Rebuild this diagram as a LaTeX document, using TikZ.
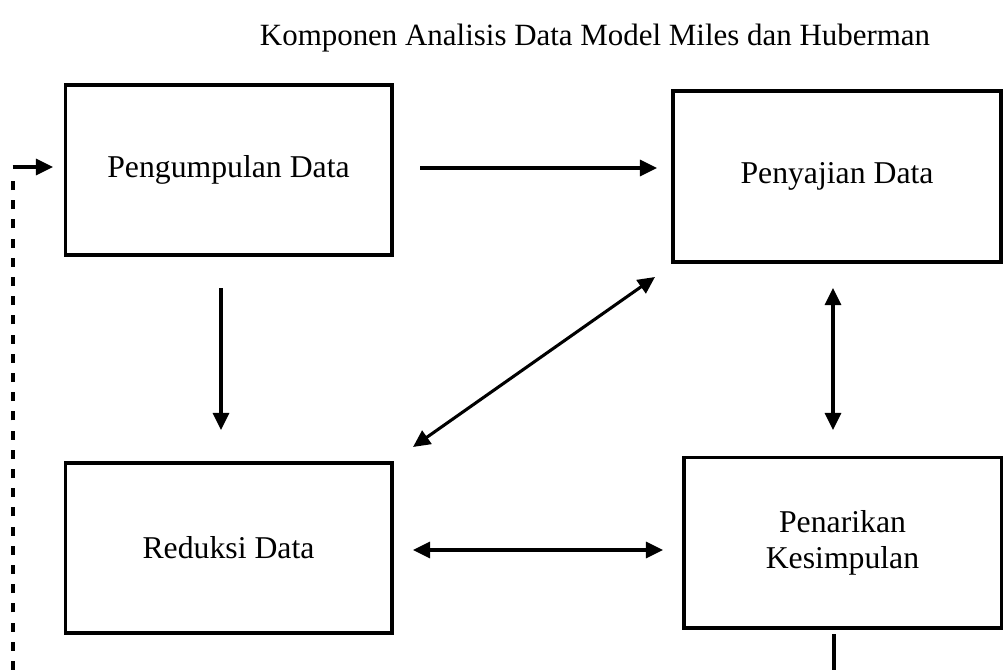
\documentclass[tikz,border=0pt]{standalone}
\usepackage{fontspec}
\setmainfont{Liberation Serif}
\usetikzlibrary{arrows.meta}
\tikzset{
  box/.style={draw, line width=1.15pt, rectangle, inner sep=0pt, align=center,
    font=\fontsize{11.9}{13.5}\selectfont},
  link/.style={line width=1.15pt, -{Triangle[length=6.4pt,width=6pt]}},
  twoway/.style={line width=1.15pt, {Triangle[length=6.4pt,width=6pt]}-{Triangle[length=6.4pt,width=6pt]}},
  loopback/.style={line width=1.15pt, dash pattern=on 3.4pt off 3.8pt},
}
\begin{document}
\begin{tikzpicture}[x=0.375pt, y=-0.375pt]
  \useasboundingbox (0,0) rectangle (1003,670);

  % title
  \node[font=\fontsize{11.6}{14}\selectfont] (title) at (595,38)
    {Komponen Analisis Data Model Miles dan Huberman};

  % the four components
  \node[box, minimum width=122.6pt, minimum height=63.75pt] (kumpul) at (228.5,170) {Pengumpulan Data};
  \node[box, minimum width=123pt, minimum height=64.1pt] (saji) at (837,176.5) {Penyajian Data};
  \node[box, minimum width=122.6pt, minimum height=63.75pt] (reduksi) at (228.5,548) {Reduksi Data};
  \node[box, minimum width=118.9pt, minimum height=64.1pt] (tarik) at (842.5,542.5) {Penarikan\\Kesimpulan};

  % connector end points (arrows stand clear of the boxes)
  \coordinate (k-e) at (420,168);
  \coordinate (s-w) at (657,168);
  \coordinate (k-s) at (221,288);
  \coordinate (r-n) at (221,430);
  \coordinate (r-ne) at (413,447);
  \coordinate (s-sw) at (655,277);
  \coordinate (r-e) at (413,550);
  \coordinate (t-w) at (663,550);
  \coordinate (s-s) at (833,288);
  \coordinate (t-n) at (833,430);
  \coordinate (t-s) at (834,634);
  \coordinate (t-out) at (834,670);
  \coordinate (loop-bot) at (13,670);
  \coordinate (loop-top) at (13,172);
  \coordinate (loop-corner) at (12.5,167);
  \coordinate (k-w) at (53,167);

  % arrows
  \draw[link] (k-e) -- (s-w);
  \draw[link] (k-s) -- (r-n);
  \draw[twoway] (r-ne) -- (s-sw);
  \draw[twoway] (r-e) -- (t-w);
  \draw[twoway] (s-s) -- (t-n);

  % feedback loop back to data collection
  \draw[line width=1.15pt] (t-s) -- (t-out);
  \draw[loopback] (loop-bot) -- (loop-top);
  \draw[link] (loop-corner) -- (k-w);
\end{tikzpicture}
\end{document}
